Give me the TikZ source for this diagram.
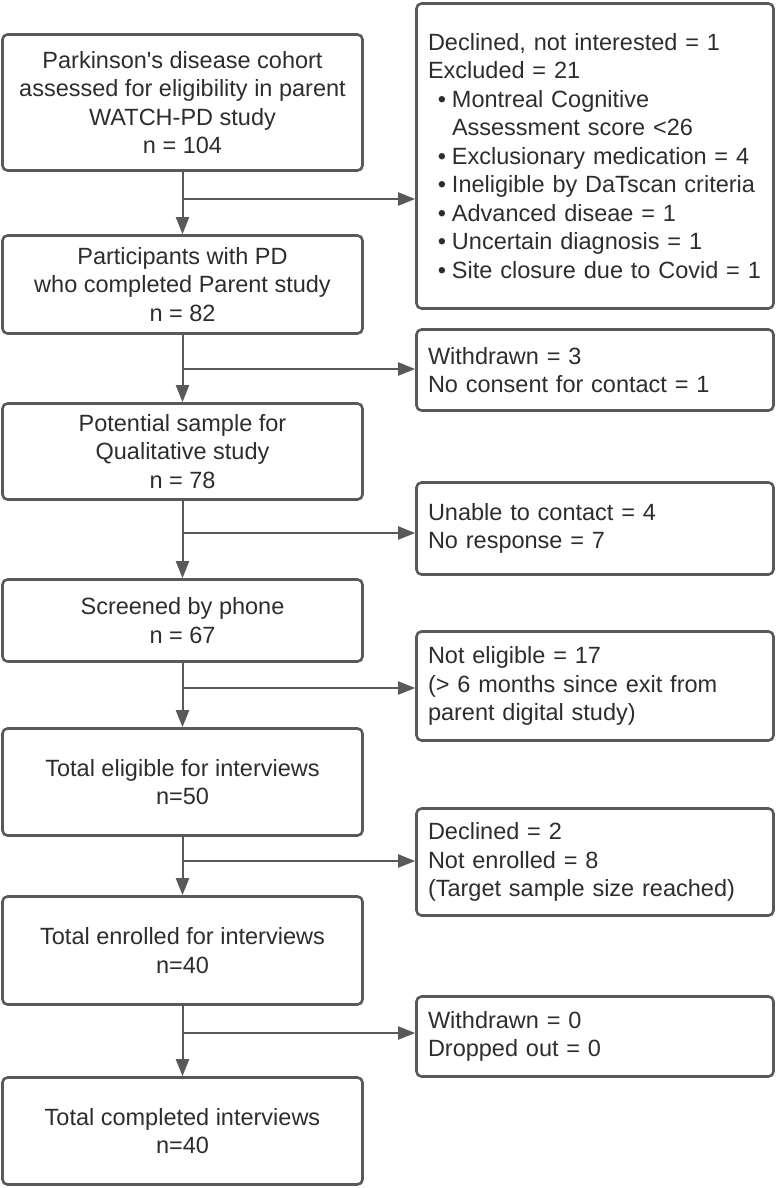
\documentclass[tikz,border=0pt]{standalone}
\usepackage{fontspec}
\setmainfont{Liberation Sans}
\usetikzlibrary{arrows.meta}

\newcommand{\bitem}[1]{\makebox[24pt][r]{\textbullet\hspace{6pt}}#1}

\begin{document}
\begin{tikzpicture}[x=1pt,y=-1pt]
% Define flowchart colours and styles
\definecolor{edgegray}{RGB}{89,89,89}
\definecolor{inkgray}{RGB}{45,45,45}
\tikzset{
  stagebox/.style={draw=edgegray,line width=2.6pt,rounded corners=5pt,
    minimum width=360pt,align=center,text=inkgray,inner sep=0pt,
    font=\fontsize{23.5}{28.5}\selectfont},
  exitbox/.style={draw=edgegray,line width=2.6pt,rounded corners=5pt,
    text width=334pt,inner xsep=11.5pt,inner ysep=0pt,align=left,text=inkgray,
    font=\fontsize{23.5}{28.5}\selectfont},
  flow/.style={draw=edgegray,line width=2pt,-{Triangle[length=17pt,width=13pt]}}
}
\useasboundingbox (0,0) rectangle (776,1188);

% Draw main stages
\node[stagebox,minimum height=136pt] (b1) at (182.5,102.5) {Parkinson\textquotesingle s disease cohort\\assessed for eligibility in parent\\WATCH-PD study\\n = 104};
\node[stagebox,minimum height=98pt] (b2) at (182.5,284.5) {Participants with PD\\who completed Parent study\\n = 82};
\node[stagebox,minimum height=96pt] (b3) at (182.5,451.5) {Potential sample for\\Qualitative study\\n = 78};
\node[stagebox,minimum height=82pt] (b4) at (182.5,620.5) {Screened by phone\\n = 67};
\node[stagebox,minimum height=107pt] (b5) at (182.5,782) {Total eligible for interviews\\n=50};
\node[stagebox,minimum height=108pt] (b6) at (182.5,950.5) {Total enrolled for interviews\\n=40};
\node[stagebox,minimum height=107pt] (b7) at (182.5,1131) {Total completed interviews\\n=40};

% Draw exclusion boxes
\node[exitbox,minimum height=305pt] (r1) at (595,156) {Declined, not interested = 1\\Excluded = 21\\
  \bitem{Montreal Cognitive}\\\hspace*{24pt}Assessment score <26\\
  \bitem{Exclusionary medication = 4}\\\bitem{Ineligible by DaTscan criteria}\\
  \bitem{Advanced diseae = 1}\\\bitem{Uncertain diagnosis = 1}\\
  \bitem{Site closure due to Covid = 1}};
\node[exitbox,minimum height=81pt] (r2) at (595,370) {Withdrawn = 3\\No consent for contact = 1};
\node[exitbox,minimum height=92pt] (r3) at (595,528.5) {Unable to contact = 4\\No response = 7};
\node[exitbox,minimum height=109pt] (r4) at (595,686) {Not eligible = 17\\(> 6 months since exit from\\parent digital study)};
\node[exitbox,minimum height=107pt] (r5) at (595,862) {Declined = 2\\Not enrolled = 8\\(Target sample size reached)};
\node[exitbox,minimum height=80pt] (r6) at (595,1036.5) {Withdrawn = 0\\Dropped out = 0};

% Branch points
\coordinate (j1) at (182.5,199);
\coordinate (j2) at (182.5,369);
\coordinate (j3) at (182.5,533);
\coordinate (j4) at (182.5,688);
\coordinate (j5) at (182.5,861);
\coordinate (j6) at (182.5,1033);

% Draw connections
\draw[flow] (b1) -- (b2);
\draw[flow] (b2) -- (b3);
\draw[flow] (b3) -- (b4);
\draw[flow] (b4) -- (b5);
\draw[flow] (b5) -- (b6);
\draw[flow] (b6) -- (b7);
\draw[flow] (j1) -- (j1 -| r1.west);
\draw[flow] (j2) -- (j2 -| r2.west);
\draw[flow] (j3) -- (j3 -| r3.west);
\draw[flow] (j4) -- (j4 -| r4.west);
\draw[flow] (j5) -- (j5 -| r5.west);
\draw[flow] (j6) -- (j6 -| r6.west);
\end{tikzpicture}
\end{document}
